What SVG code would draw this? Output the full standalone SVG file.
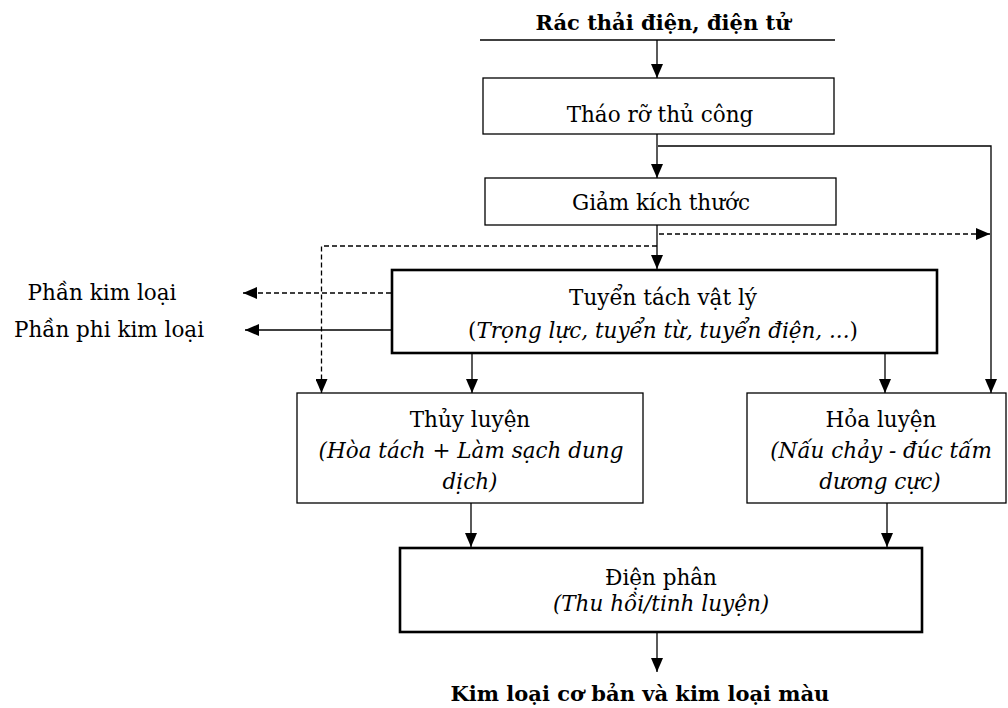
<svg xmlns="http://www.w3.org/2000/svg" width="1008" height="708" viewBox="0 0 1008 708">
<defs>
<marker id="arr" viewBox="0 0 14 12" refX="14" refY="6" markerWidth="14" markerHeight="12" orient="auto" markerUnits="userSpaceOnUse"><path d="M0,0 L14,6 L0,12 z" fill="#000"/></marker>
</defs>
<style>
text{font-family:"DejaVu Serif","Liberation Serif",serif;font-size:21.5px;fill:#000;text-anchor:middle}
.b{font-weight:bold;font-size:21px}
.i{font-style:italic}
.box{fill:#fff;stroke:#000;stroke-width:1.3}
.thick{fill:#fff;stroke:#000;stroke-width:2.6}
.ln{fill:none;stroke:#000;stroke-width:1.3}
.ar{marker-end:url(#arr)}
.dash{stroke-dasharray:5 3}
</style>
<rect width="1008" height="708" fill="#fff"/>
<g id="connectors">
<line class="ln" x1="480" y1="40" x2="835" y2="40"/>
<line class="ln ar" x1="657" y1="40" x2="657" y2="78"/>
<line class="ln ar" x1="657" y1="134" x2="657" y2="178"/>
<path class="ln ar" d="M658,146 H991 V393"/>
<line class="ln ar" x1="657" y1="225" x2="657" y2="269"/>
<path class="ln dash ar" d="M659,234 H990"/>
<path class="ln dash ar" d="M657,246 H321.5 V393"/>
<path class="ln dash ar" d="M391,293 H243"/>
<path class="ln ar" d="M391,330 H245"/>
<line class="ln ar" x1="472" y1="353" x2="472" y2="393"/>
<line class="ln ar" x1="885" y1="353" x2="885" y2="393"/>
<line class="ln ar" x1="471" y1="503" x2="471" y2="547"/>
<line class="ln ar" x1="887" y1="503" x2="887" y2="547"/>
<line class="ln ar" x1="657" y1="632" x2="657" y2="672"/>
</g>
<g id="title"><text class="b" x="663" y="30">Rác thải điện, điện tử</text></g>
<g id="thao-ro"><rect class="box" x="483" y="78" width="351" height="56"/><text x="660" y="122">Tháo rỡ thủ công</text></g>
<g id="giam-kich-thuoc"><rect class="box" x="485" y="178" width="351" height="47"/><text x="661" y="210">Giảm kích thước</text></g>
<g id="tuyen-tach"><rect class="thick" x="392" y="270" width="545" height="83"/><text x="663" y="305">Tuyển tách vật lý</text><text x="663" y="338">(<tspan class="i">Trọng lực, tuyển từ, tuyển điện, ...</tspan>)</text></g>
<g id="phan-kim-loai"><text x="102" y="300">Phần kim loại</text></g>
<g id="phan-phi-kim-loai"><text x="109" y="337">Phần phi kim loại</text></g>
<g id="thuy-luyen"><rect class="box" x="297" y="393" width="346" height="110"/><text x="470" y="427">Thủy luyện</text><text class="i" x="471" y="458">(Hòa tách + Làm sạch dung</text><text class="i" x="470" y="489">dịch)</text></g>
<g id="hoa-luyen"><rect class="box" x="747" y="393" width="259" height="110"/><text x="881" y="427">Hỏa luyện</text><text class="i" x="881" y="458">(Nấu chảy - đúc tấm</text><text class="i" x="880" y="489">dương cực)</text></g>
<g id="dien-phan"><rect class="thick" x="400" y="548" width="522" height="84"/><text x="661" y="585">Điện phân</text><text class="i" x="661" y="611">(Thu hồi/tinh luyện)</text></g>
<g id="ket-qua"><text class="b" x="640" y="701">Kim loại cơ bản và kim loại màu</text></g>
</svg>
